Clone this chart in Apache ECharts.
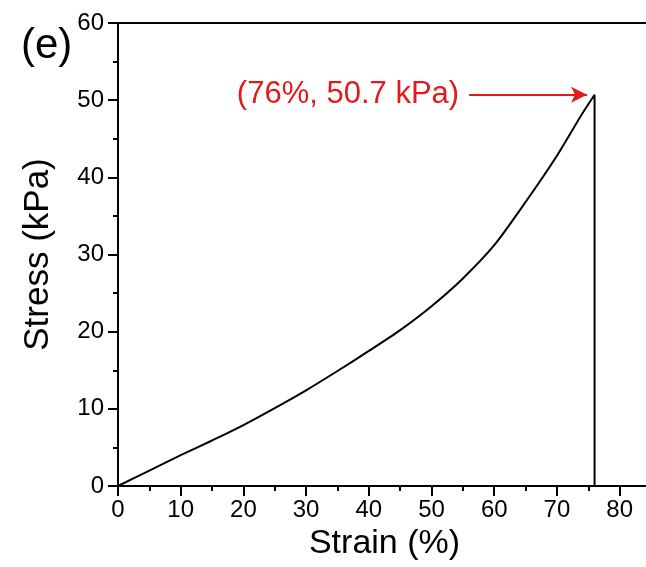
<!DOCTYPE html>
<html>
<head>
<meta charset="utf-8">
<script src="https://cdn.jsdelivr.net/npm/echarts@6/dist/echarts.min.js"></script>
<style>
  html, body { margin: 0; padding: 0; background: #fff; overflow: hidden; }
  #chart { width: 646px; height: 567px; }
</style>
</head>
<body>
<div id="chart"></div>
<script>
// Compression curve: strain (%) vs stress (kPa), ending at failure
const strain = [0, 5, 10, 15, 20, 25, 30, 35, 40, 45, 50, 55, 60, 65, 70, 74, 76, 76];
const stress = [0, 2.0, 4.0, 5.9, 7.9, 10.1, 12.4, 14.9, 17.5, 20.2, 23.3, 26.9, 31.2, 36.8, 42.8, 48.2, 50.7, 0];

// Failure point annotation
const peakStrain = 76;
const peakStress = 50.7;
const peakLabel = '(76%, 50.7 kPa)';
const arrowFrom = 56;
const arrowTo = 74.8;

const FONT = '"Liberation Sans", Arial, sans-serif';
const RED = '#e31a1c';

const chart = echarts.init(document.getElementById('chart'), null, { renderer: 'canvas' });

chart.setOption({
  animation: false,
  backgroundColor: '#fff',
  grid: {
    left: 118, top: 23, width: 533, height: 463,
    containLabel: false,
    outerBoundsMode: 'none',
    show: true, borderColor: '#000', borderWidth: 2, backgroundColor: 'transparent'
  },
  graphic: [{
    type: 'text', left: 21, top: 25,
    style: { text: '(e)', font: '42px ' + FONT, fill: '#000' }
  }],
  xAxis: {
    type: 'value', min: 0, max: 85, interval: 10,
    name: 'Strain (%)', nameLocation: 'middle', nameGap: 41,
    nameTextStyle: { fontFamily: FONT, fontSize: 34, color: '#000' },
    axisLine: { lineStyle: { color: '#000', width: 2 } },
    axisTick: { inside: false, length: 10, lineStyle: { color: '#000', width: 2 } },
    minorTick: { show: true, splitNumber: 2, length: 5, lineStyle: { color: '#000', width: 2 } },
    axisLabel: { fontFamily: FONT, fontSize: 24, color: '#000', margin: 12, showMaxLabel: false },
    splitLine: { show: false }
  },
  yAxis: {
    type: 'value', min: 0, max: 60, interval: 10,
    name: 'Stress (kPa)', nameLocation: 'middle', nameGap: 62,
    nameTextStyle: { fontFamily: FONT, fontSize: 35, color: '#000' },
    axisLine: { lineStyle: { color: '#000', width: 2 } },
    axisTick: { inside: false, length: 10, lineStyle: { color: '#000', width: 2 } },
    minorTick: { show: true, splitNumber: 2, length: 5, lineStyle: { color: '#000', width: 2 } },
    axisLabel: { fontFamily: FONT, fontSize: 24, color: '#000', margin: 14 },
    splitLine: { show: false }
  },
  series: [{
    type: 'line',
    data: strain.map((s, i) => [s, stress[i]]),
    smooth: 0.25,
    showSymbol: false,
    lineStyle: { color: '#000', width: 2 },
    markLine: {
      silent: true,
      symbol: ['none', 'arrow'],
      symbolSize: [12, 16],
      lineStyle: { color: RED, width: 2, type: 'solid' },
      label: {
        show: true, position: 'start', distance: 10,
        formatter: peakLabel,
        fontFamily: FONT, fontSize: 31, color: RED
      },
      data: [[
        { coord: [arrowFrom, peakStress] },
        { coord: [arrowTo, peakStress] }
      ]]
    }
  }]
});
</script>
</body>
</html>
